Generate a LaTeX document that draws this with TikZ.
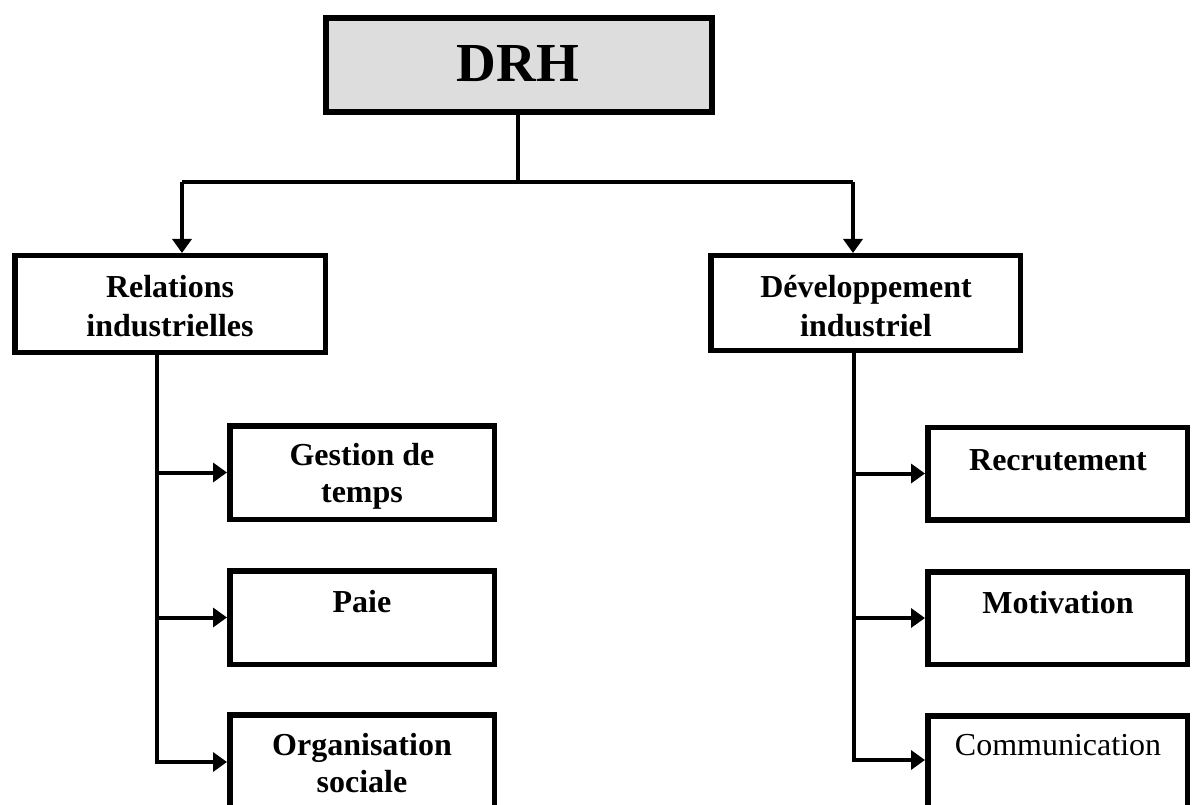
\documentclass[tikz,border=0pt]{standalone}
\usepackage{fontspec}
\setmainfont{Liberation Serif}
\usetikzlibrary{arrows.meta}
\definecolor{boxgray}{HTML}{DDDDDD}
\tikzset{
  box/.style={draw=black, line width=5.5pt, rectangle, inner sep=0pt, fill=white},
  topbox/.style={box, line width=6pt, fill=boxgray},
  lbl/.style={anchor=base, inner sep=0pt, font=\fontsize{32}{38}\selectfont\bfseries},
  lblr/.style={anchor=base, inner sep=0pt, font=\fontsize{32}{38}\selectfont},
  conn/.style={draw=black, line width=4pt},
  arr/.style={conn, -{Triangle[width=19pt,length=14pt]}},
}
\begin{document}
\begin{tikzpicture}[x=1pt,y=-1pt]
\useasboundingbox (0,0) rectangle (1192,805);
\clip (0,0) rectangle (1192,805);
% boxes
\node[topbox, minimum width=386pt, minimum height=94pt] (drh) at (519,65) {};
\node[box, minimum width=310.5pt, minimum height=96.5pt] (rel) at (170,304) {};
\node[box, minimum width=309.5pt, minimum height=94.5pt] (dev) at (865.5,303) {};
\node[box, minimum width=264.5pt, minimum height=93.5pt] (g1) at (362,472.5) {};
\node[box, minimum width=264.5pt, minimum height=93.5pt] (g2) at (362,617.5) {};
\node[box, minimum width=264.5pt, minimum height=93.5pt] (g3) at (362,761.5) {};
\node[box, minimum width=259.5pt, minimum height=92.5pt] (d1) at (1057.5,473.5) {};
\node[box, minimum width=259.5pt, minimum height=92.5pt] (d2) at (1057.5,618) {};
\node[box, minimum width=259.5pt, minimum height=92.5pt] (d3) at (1057.5,762) {};
% texts
\node[anchor=base, inner sep=0pt, font=\fontsize{55}{60}\selectfont\bfseries] (tdrh) at (518,82) {DRH};
\node[lbl] (trel1) at (170,298) {Relations};
\node[lbl] (trel2) at (170,336) {industrielles};
\node[lbl] (tdev1) at (866,298) {Développement};
\node[lbl] (tdev2) at (866,336) {industriel};
\node[lbl] (tg1a) at (362,465) {Gestion de};
\node[lbl] (tg1b) at (362,502) {temps};
\node[lbl] (tg2) at (362,612) {Paie};
\node[lbl] (tg3a) at (362,755) {Organisation};
\node[lbl] (tg3b) at (362,792) {sociale};
\node[lbl] (td1) at (1058,470) {Recrutement};
\node[lbl] (td2) at (1058,613) {Motivation};
\node[lblr] (td3) at (1058,755) {Communication};
% connectors
\coordinate (jt) at (518,182);
\coordinate (jl) at (182,182);
\coordinate (jr) at (853,182);
\coordinate (lv) at (157,762);
\coordinate (rv) at (854,760);
\draw[conn] (drh.south -| jt) -- (jt);
\draw[conn] (jl) -- (jr);
\draw[arr] (jl) -- (jl |- rel.north);
\draw[arr] (jr) -- (jr |- dev.north);
\draw[arr] (lv |- rel.south) -- (lv) -- (g3.west |- lv);
\draw[arr] (lv |- g1.west) -- (g1.west);
\draw[arr] (lv |- g2.west) -- (g2.west);
\draw[arr] (rv |- dev.south) -- (rv) -- (d3.west |- rv);
\draw[arr] (rv |- d1.west) -- (d1.west);
\draw[arr] (rv |- d2.west) -- (d2.west);
\end{tikzpicture}
\end{document}
